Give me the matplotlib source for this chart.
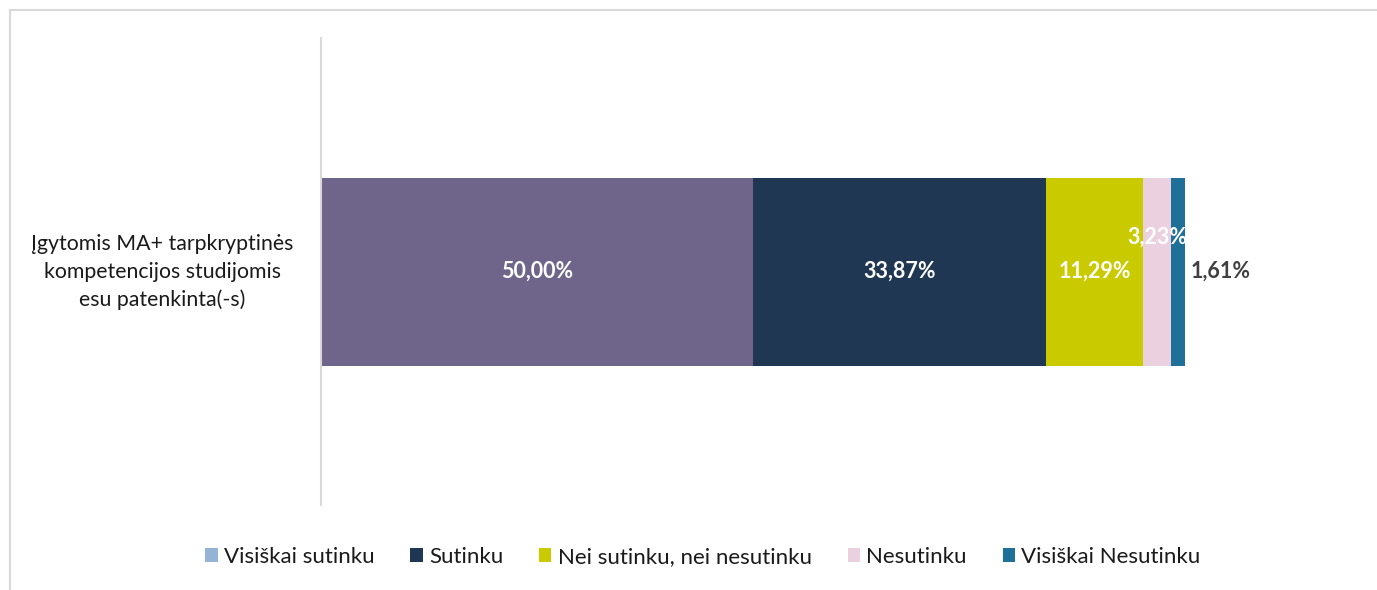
import matplotlib.pyplot as plt
from matplotlib.patches import Patch
from matplotlib.lines import Line2D

plt.rcParams['font.family'] = ['Lato', 'DejaVu Sans']

category = "Įgytomis MA+ tarpkryptinės\nkompetencijos studijomis\nesu patenkinta(-s)"
series = ["Visiškai sutinku", "Sutinku", "Nei sutinku, nei nesutinku", "Nesutinku", "Visiškai Nesutinku"]
values = [50.00, 33.87, 11.29, 3.23, 1.61]
labels = ["50,00%", "33,87%", "11,29%", "3,23%", "1,61%"]
bar_colors = ["#6F6489", "#203754", "#CACA00", "#EBD0DF", "#1F7098"]
legend_colors = ["#95B3D7", "#203754", "#CACA00", "#EBD0DF", "#1F7098"]

W, H = 1377, 590
fig = plt.figure(figsize=(W/100, H/100), dpi=100)

ax = fig.add_axes([321/W, 1-505/H, (1185-321)/W, (505-38)/H])
left = 0
for v, c in zip(values, bar_colors):
    ax.barh(0, v, left=left, height=188/467, color=c)
    left += v
ax.set_xlim(0, 100)
ax.set_ylim(-0.5, 0.5)
for s in ['top', 'right', 'bottom']:
    ax.spines[s].set_visible(False)
ax.spines['left'].set_color('#D9D9D9')
ax.spines['left'].set_linewidth(1.5)
ax.set_xticks([])
ax.set_yticks([])

# data labels
starts = [sum(values[:i]) for i in range(len(values))]
fs = 15.5
for i, (s, v, lab) in enumerate(zip(starts, values, labels)):
    if i < 3:
        ax.text(s + v/2, 0, lab, ha='center', va='center', color='white',
                fontsize=fs, fontweight='bold')
    elif i == 3:
        ax.text(s + v/2, 0.073, lab, ha='center', va='center', color='white',
                fontsize=fs, fontweight='bold')
    else:
        ax.text(s + v + 0.7, 0, lab, ha='left', va='center', color='#404040',
                fontsize=fs, fontweight='bold')

fig.text(162/W, 1-272/H, category, ha='center', va='center', fontsize=15.3,
         color='#1a1a1a', linespacing=1.5)

handles = [Patch(facecolor=c, edgecolor='none') for c in legend_colors]
fig.legend(handles, series, loc='center', bbox_to_anchor=(703/W, 1-557/H),
           ncol=5, frameon=False, fontsize=16, handlelength=0.55, handleheight=0.55,
           handletextpad=0.3, columnspacing=1.6, labelcolor='#1a1a1a')

# chart border (top & left visible)
fig.add_artist(Line2D([10/W, 10/W], [0, 1-10/H], color='#D9D9D9', lw=1.5, transform=fig.transFigure))
fig.add_artist(Line2D([10/W, 1], [1-10/H, 1-10/H], color='#D9D9D9', lw=1.5, transform=fig.transFigure))

fig.savefig('out.png', dpi=100)
